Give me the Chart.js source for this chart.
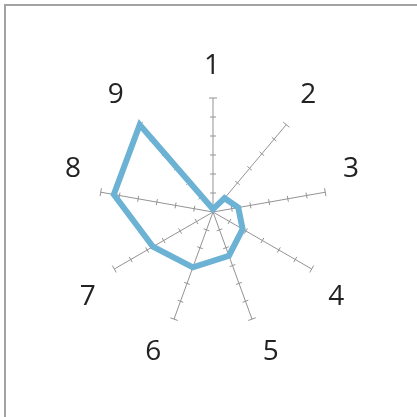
<!DOCTYPE html>
<html>
<head>
<meta charset="utf-8">
<script src="https://cdn.jsdelivr.net/npm/chart.js@4/dist/chart.umd.min.js"></script>
<style>
  html, body { margin: 0; padding: 0; background: #fff; overflow: hidden; }
  #wrap { position: relative; width: 417px; height: 417px; }
  #frame { position: absolute; left: 4px; top: 4px; width: 420px; height: 420px;
           border-left: 2px solid #a3a3a3; border-top: 2px solid #a3a3a3; box-sizing: border-box; }
  #c { position: absolute; left: 0; top: 0; }
</style>
</head>
<body>
<div id="wrap">
  <div id="frame"></div>
  <canvas id="c" width="417" height="417"></canvas>
</div>
<script>
const categories = ["1", "2", "3", "4", "5", "6", "7", "8", "9"];
const seriesValues = [0.15, 0.95, 1.35, 1.8, 2.45, 3.1, 3.65, 5.3, 6];
const tickValues = [1, 2, 3, 4, 5, 6];
const scaleMin = 0;
const scaleMax = 6;

const spokeTicks = {
  id: 'spokeTicks',
  beforeDatasetsDraw(chart) {
    const scale = chart.scales.r;
    const ctx = chart.ctx;
    ctx.save();
    ctx.strokeStyle = '#939393';
    ctx.lineWidth = 1;
    for (let i = 0; i < categories.length; i++) {
      const a = scale.getIndexAngle(i) - Math.PI / 2;
      const px = -Math.sin(a), py = Math.cos(a);
      tickValues.forEach(v => {
        const p = scale.getPointPositionForValue(i, v);
        const h = (v === scaleMax) ? 4 : 3;
        ctx.beginPath();
        ctx.moveTo(p.x - px * h, p.y - py * h);
        ctx.lineTo(p.x + px * h, p.y + py * h);
        ctx.stroke();
      });
    }
    ctx.restore();
  },
  afterDraw(chart) {
    const scale = chart.scales.r;
    const ctx = chart.ctx;
    ctx.save();
    ctx.font = '400 28px "Open Sans"';
    ctx.fillStyle = '#222';
    ctx.textAlign = 'center';
    ctx.textBaseline = 'middle';
    const halfW = 16, halfH = 22;
    for (let i = 0; i < categories.length; i++) {
      const p = scale.getPointPosition(i, scale.drawingArea + 11);
      let deg = (scale.getIndexAngle(i) * 180 / Math.PI) % 360;
      let x = p.x - 1, y = p.y + 1;
      if (deg > 0.5 && deg < 179.5) x += halfW;
      else if (deg > 180.5 && deg < 359.5) x -= halfW;
      if (Math.abs(deg - 90) < 0.5 || Math.abs(deg - 270) < 0.5) { /* centered */ }
      else if (deg > 270 || deg < 90) y -= halfH;
      else y += halfH;
      ctx.fillText(categories[i], x, y);
    }
    ctx.restore();
  }
};

new Chart(document.getElementById('c'), {
  type: 'radar',
  data: {
    labels: categories,
    datasets: [{
      data: seriesValues,
      borderColor: 'rgb(108,178,212)',
      borderWidth: 6,
      fill: false,
      pointRadius: 0,
      pointHoverRadius: 0,
      tension: 0
    }]
  },
  options: {
    responsive: false,
    animation: false,
    events: [],
    layout: { padding: { left: 99, right: 90, top: 98, bottom: 91 } },
    plugins: { legend: { display: false }, tooltip: { enabled: false } },
    scales: {
      r: {
        min: scaleMin,
        max: scaleMax,
        ticks: { display: false, stepSize: 1 },
        grid: { display: false },
        angleLines: { display: true, color: '#939393', lineWidth: 1 },
        pointLabels: { display: false }
      }
    }
  },
  plugins: [spokeTicks]
});
</script>
</body>
</html>
